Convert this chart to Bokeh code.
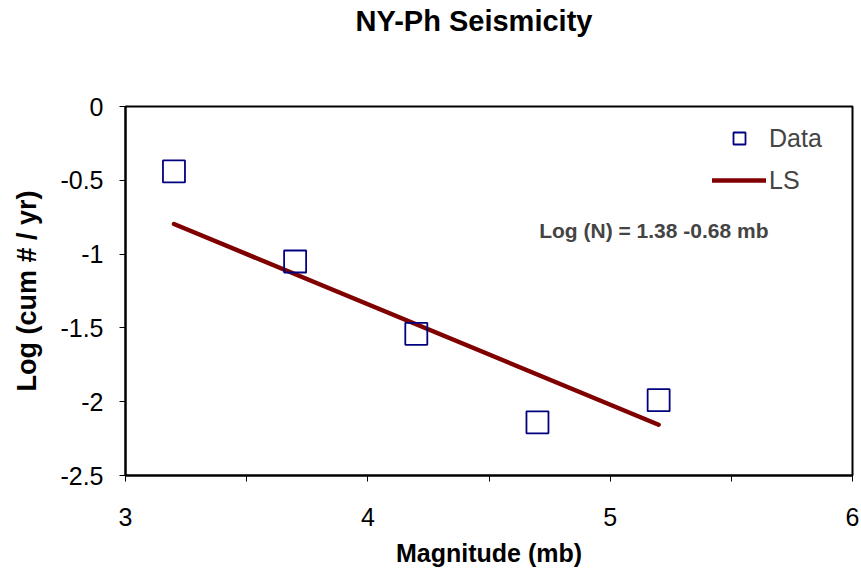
from bokeh.plotting import figure
from bokeh.models import FixedTicker, Label, Legend, LegendItem, LinearAxis
from bokeh.embed import file_html
from bokeh.resources import INLINE

title_text = "NY-Ph Seismicity"
x_label = "Magnitude (mb)"
y_label = "Log (cum # / yr)"
equation = "Log (N) = 1.38 -0.68 mb"

magnitude = [3.2, 3.7, 4.2, 4.7, 5.2]
log_cum = [-0.44, -1.05, -1.54, -2.14, -1.99]

intercept = 1.38
slope = -0.68
fit_x = [3.2, 5.2]
fit_y = [intercept + slope * v for v in fit_x]

x_ticks = [3, 4, 5, 6]
x_minor = [3.5, 4.5, 5.5]
y_ticks = [0, -0.5, -1, -1.5, -2, -2.5]
y_tick_labels = ["0", "-0.5", "-1", "-1.5", "-2", "-2.5"]

FONT = "Liberation Sans"

p = figure(width=861, height=577, x_range=(3, 6), y_range=(-2.5, 0),
           output_backend="svg", toolbar_location=None, title=title_text,
           min_border_left=125, min_border_right=9, min_border_top=106, min_border_bottom=102)
p.grid.visible = False
p.outline_line_color = "black"
p.outline_line_width = 2
p.background_fill_color = "white"
p.border_fill_color = "white"

p.title.align = "left"
p.title.offset = 230
p.title.text_font = FONT
p.title.text_font_style = "bold"
p.title.text_font_size = "29px"
p.title.text_color = "black"
p.title.standoff = 0

xa = p.below[0]
ya = p.left[0]

for ax in (xa, ya):
    ax.axis_line_color = "black"
    ax.axis_line_width = 2
    ax.major_tick_in = 0
    ax.major_tick_out = 6
    ax.minor_tick_in = 0
    ax.minor_tick_out = 6
    ax.major_tick_line_color = "black"
    ax.minor_tick_line_color = "black"
    ax.major_label_text_font = FONT
    ax.major_label_text_font_size = "25px"
    ax.major_label_text_color = "black"
    ax.axis_label_text_font = FONT
    ax.axis_label_text_font_style = "bold"
    ax.axis_label_text_color = "black"

xa.axis_label_text_font_size = "25px"
ya.axis_label_text_font_size = "27px"
xa.ticker = FixedTicker(ticks=x_ticks, minor_ticks=x_minor)
ya.ticker = FixedTicker(ticks=y_ticks, minor_ticks=[])
ya.major_label_overrides = {t: l for t, l in zip(y_ticks, y_tick_labels)}
xa.major_label_overrides = {t: str(t) for t in x_ticks}
xa.major_label_standoff = 26
ya.major_label_standoff = 16
xa.axis_label = x_label
ya.axis_label = y_label
xa.axis_label_standoff = 10
ya.axis_label_standoff = 15

# invisible spacer axis between the title and the frame
spacer = LinearAxis(ticker=FixedTicker(ticks=[], minor_ticks=[]),
                    axis_line_color=None, major_tick_line_color=None,
                    minor_tick_line_color=None, major_tick_out=0, major_tick_in=0,
                    minor_tick_out=0, minor_tick_in=0,
                    major_label_standoff=0, major_label_text_font_size="0px",
                    axis_label=" ", axis_label_text_font_size="20px",
                    axis_label_standoff=45)
p.add_layout(spacer, "above")

ln = p.line(fit_x, fit_y, line_color="#800000", line_width=4.5, line_cap="round")
sq = p.scatter(magnitude, log_cum, marker="square", size=22, fill_color=None,
               line_color="#000080", line_width=1.8)

legend = Legend(items=[LegendItem(label="Data", renderers=[sq]),
                       LegendItem(label="LS", renderers=[ln])],
                location=(587, 280), border_line_color=None, background_fill_alpha=0,
                glyph_width=54, glyph_height=30, spacing=12, label_standoff=3,
                label_text_font=FONT, label_text_font_size="25px", margin=0, padding=6)
p.add_layout(legend, "center")

p.add_layout(Label(x=4.707, y=-0.84,
                   text=equation, text_font=FONT, text_font_style="bold",
                   text_font_size="21px", text_baseline="middle", text_align="left"))

open("out.html", "w").write(file_html(p, INLINE))
